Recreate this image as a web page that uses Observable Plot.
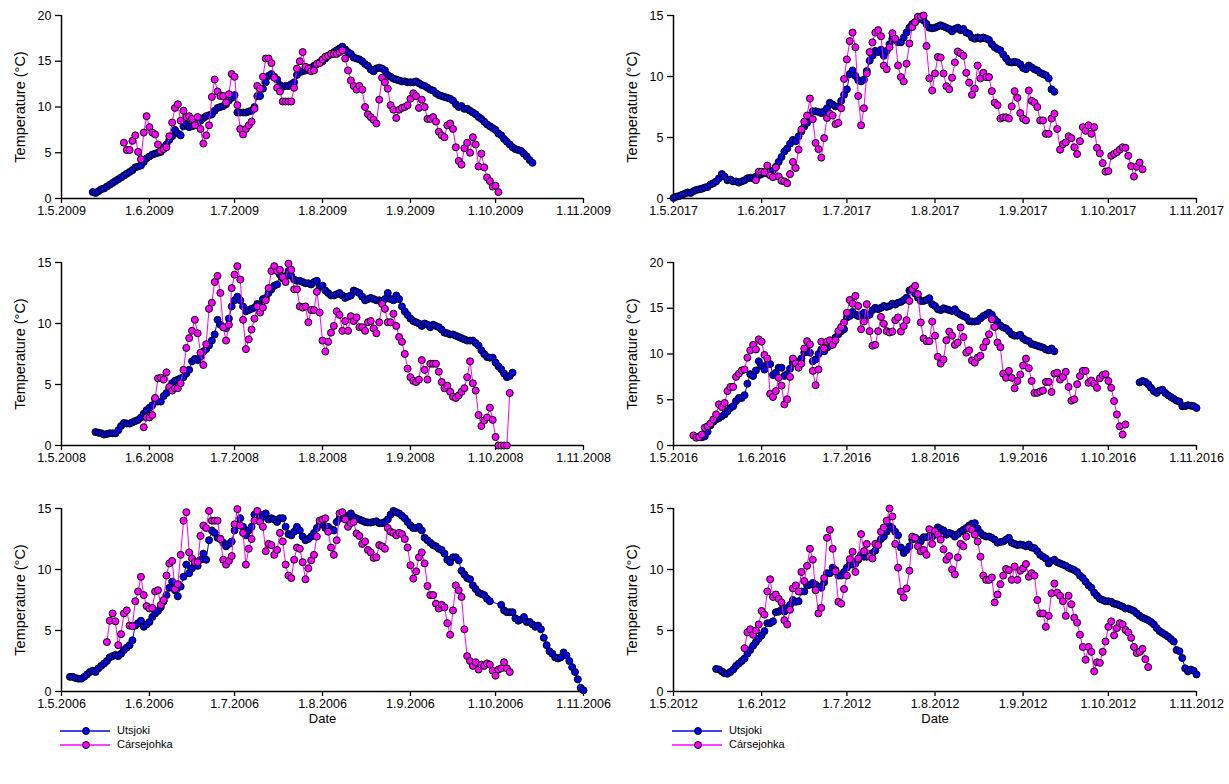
<!DOCTYPE html>
<html><head><meta charset="utf-8">
<script src="https://cdn.jsdelivr.net/npm/d3@7"></script>
<script src="https://cdn.jsdelivr.net/npm/@observablehq/plot@0.6"></script>
<style>
body{margin:0;background:#fff;font-family:"Liberation Sans",Arial,sans-serif;}
#wrap{position:relative;width:1229px;height:784px;overflow:hidden;}
.leg{position:absolute;font-size:11px;color:#000;white-space:nowrap;}
</style></head><body><div id="wrap"></div>
<script>
// ---------- data (daily mean temperatures, °C; start = days after 1 May) ----------
const seriesNames = ["Utsjoki", "Cársejohka"];
const panelYears = [2009, 2017, 2008, 2016, 2006, 2012];
const panelYMax = [20, 15, 15, 20, 15, 15];
const tickMonths = [4, 5, 6, 7, 8, 9, 10];

const uts2009Start = 11;
const uts2009 = [0.7,0.6,0.8,1.0,1.1,1.3,1.5,1.7,1.9,2.1, 2.3,2.5,2.7,2.9,3.1,3.4,3.5,3.6,4.0,4.4, 4.6,4.8,4.9,5.0,5.1,5.6,5.9,6.4,6.8,7.5, 7.1,6.9,7.9,8.1,7.8,7.9,8.0,8.3,8.5,8.8, 9.0,9.1,9.2,9.6,9.9,10.0,10.1,10.3,10.7,11.0, 11.3,9.4,9.4,9.4,9.4,9.5,9.6,10.0,11.2,11.2, 12.0,12.7,13.4,13.6,13.3,13.0,12.4,12.2,12.3,12.3, 12.5,12.7,13.5,13.8,13.9,14.0,14.1,14.3,14.5,14.7, 14.9,15.0,15.3,15.6,15.8,16.0,16.2,16.4,16.6,16.3, 16.0,15.8,15.4,15.3,15.2,15.0,14.7,14.5,14.1,13.9, 14.2,14.3,14.2,14.0,13.5,13.3,13.1,13.0,12.9,12.8, 12.8,12.7,12.7,12.7,12.8,12.6,12.4,12.3,12.1,11.9, 11.8,11.5,11.3,11.2,11.1,11.0,10.9,10.7,10.3,10.0, 10.1,9.8,9.8,9.6,9.4,9.2,8.9,8.7,8.4,8.1, 7.9,7.7,7.5,7.1,6.9,6.5,6.2,5.9,5.6,5.4, 5.3,5.2,4.9,4.6,4.2,3.9];
const cars2009Start = 22;
const cars2009 = [6.1,5.3,5.3,6.3,6.9,5.1,4.3,7.2,9.0,7.8, 7.2,7.0,5.9,5.2,5.4,5.6,6.8,8.3,9.9,10.3, 8.5,9.6,8.9,9.0,8.7,8.0,8.9,7.6,6.0,6.9, 8.0,11.1,13.0,11.7,11.2,11.2,10.5,11.4,13.6,13.3, 10.2,7.6,7.0,7.6,8.0,8.4,9.8,12.3,12.0,13.3, 15.3,15.3,14.8,13.2,12.1,11.7,10.6,10.6,10.6,10.6, 12.1,14.2,15.0,16.0,14.4,14.2,13.9,14.0,14.7,14.8, 15.2,15.5,15.6,15.8,15.8,15.8,16.0,16.2,15.3,14.0, 12.9,12.3,11.9,12.3,11.9,10.0,9.2,8.9,8.6,8.2, 10.8,13.2,12.7,12.0,10.2,9.7,8.8,9.7,9.9,10.0, 10.2,10.9,11.5,11.2,9.9,10.8,10.0,8.7,8.7,8.9, 8.4,7.3,6.9,6.7,8.0,8.2,7.6,5.6,4.1,3.7, 5.5,6.1,5.0,6.7,5.9,3.5,4.9,3.4,2.3,1.9, 1.3,1.4,0.7];

const uts2008Start = 12;
const uts2008 = [1.1,1.05,1.0,0.9,0.95,1.0,1.0,1.0,1.25,1.6, 1.85,1.8,1.8,1.9,2.0,2.1,2.3,2.6,2.9,3.1, 3.3,3.8,3.6,3.6,4.05,4.3,4.7,5.1,5.3,5.4, 5.5,5.6,5.9,6.2,6.9,7.1,7.0,7.3,7.7,7.9, 8.2,8.6,9.1,10.3,9.9,9.7,9.6,10.4,11.4,11.9, 12.2,11.9,11.4,11.0,11.1,11.2,11.3,11.6,11.4,12.0, 12.1,12.5,12.8,13.1,13.2,14.0,13.7,13.9,14.3,13.9, 13.6,13.5,13.5,13.4,13.3,13.3,13.2,13.4,13.5,13.0, 13.1,12.7,12.5,12.3,12.3,12.4,12.5,12.3,12.1,12.2, 12.3,12.7,12.6,12.5,12.2,11.9,12.0,12.1,12.0,11.9, 11.9,11.85,12.0,12.5,12.0,11.9,12.3,12.0,11.4,11.0, 10.7,10.4,10.2,10.1,10.0,9.8,10.0,9.9,9.7,9.9, 9.8,9.7,9.5,9.25,9.2,9.1,9.1,9.0,8.9,8.8, 8.7,8.6,8.6,8.6,8.4,8.2,7.8,7.5,7.25,7.2, 7.2,6.8,6.5,6.25,5.9,5.6,5.7,5.97];
const cars2008Start = 29;
const cars2008 = [1.5,2.3,2.3,2.5,3.9,5.5,5.55,5.4,6.0,4.8, 4.5,4.7,4.7,5.1,6.2,8.0,8.8,9.4,10.3,9.2, 7.6,6.6,8.3,11.2,11.7,13.4,13.9,12.5,9.7,8.6, 9.9,12.9,14.0,14.7,13.6,10.3,7.9,8.7,9.5,10.4, 11.4,10.9,11.3,11.9,12.9,14.3,14.7,14.3,14.4,13.8, 13.4,14.9,14.4,12.8,12.8,11.4,11.3,11.4,10.1,11.1, 11.1,12.6,10.9,8.6,7.7,8.5,9.25,9.8,11.0,10.7, 9.4,10.2,9.4,10.6,10.2,10.5,9.7,9.7,9.4,10.1, 10.2,9.6,9.2,10.1,11.6,11.2,10.1,10.1,10.8,9.8, 8.9,8.5,7.5,6.3,5.6,5.3,5.2,5.4,7.0,6.2, 5.4,6.7,6.7,6.7,6.05,5.2,4.7,4.9,4.4,4.0, 3.9,4.1,4.4,4.7,5.6,6.9,5.1,4.5,2.5,1.6, 2.05,2.3,3.1,2.1,0.7,0,0,0,0,4.3];

const uts2006Start = 3;
const uts2006 = [1.2,1.2,1.1,1.05,1.05,1.2,1.4,1.6,1.7,1.6, 1.9,2.1,2.3,2.5,2.8,2.9,3.0,2.9,3.1,3.4, 3.6,3.8,4.2,5.4,5.6,5.8,5.3,5.5,5.7,6.1, 6.4,6.6,6.9,7.4,7.9,8.5,9.0,8.3,7.8,8.6, 9.4,10.4,9.7,10.1,10.5,10.3,10.8,11.3,10.8,12.4, 13.2,13.0,12.6,12.5,12.2,11.9,12.1,12.3,13.2,13.7, 14.2,13.5,12.8,13.2,13.5,14.5,14.2,14.5,14.3,14.6, 14.1,14.2,14.1,13.9,14.2,14.2,13.5,12.9,12.8,13.1, 13.5,13.2,12.7,12.4,12.5,12.7,13.0,13.4,13.7,13.8, 13.4,13.5,13.3,13.2,13.9,14.2,14.45,14.4,14.3,14.6, 14.3,14.2,14.1,14.0,13.9,13.85,13.85,13.9,13.95,13.8, 13.8,13.9,14.1,14.5,14.8,14.7,14.6,14.4,14.2,13.9, 13.6,13.4,13.4,13.5,13.2,12.6,12.4,12.2,12.0,11.9, 11.7,11.6,11.3,10.8,10.6,11.0,11.0,10.75,9.9,9.6, 9.3,9.2,8.7,8.4,8.1,8.0,7.9,7.6,7.4,null, null,null,7.1,6.65,6.5,6.5,6.5,6.0,5.8,5.9, 6.1,5.7,5.7,5.5,5.3,5.4,5.1,4.4,3.8,3.3, 3.1,2.8,2.7,2.8,3.2,2.95,2.5,2.0,1.6,1.0, 0.3,0.1];
const cars2006Start = 16;
const cars2006 = [4.05,5.8,6.4,5.75,3.8,4.7,6.4,6.65,5.4,5.35, 7.4,8.2,9.4,7.9,7.0,6.8,6.85,8.2,8.3,7.1, 7.5,9.5,10.5,10.7,8.4,8.8,11.2,14.0,14.7,11.4, 10.9,10.6,10.6,12.75,13.6,13.4,14.8,14.0,14.0,14.0, 12.5,10.8,10.4,10.7,11.1,13.7,14.95,13.6,13.0,10.4, 11.7,12.5,14.0,14.8,13.9,13.5,11.5,12.1,12.0,11.2, 11.6,13.0,12.3,10.4,9.5,9.3,10.8,11.8,11.7,10.6, 9.2,10.1,10.75,11.2,12.7,14.0,14.1,14.2,13.1,11.8, 11.2,12.4,14.6,14.7,14.1,13.5,13.8,13.9,12.95,12.75, 12.1,12.3,11.6,11.4,10.95,11.0,12.0,11.9,11.7,13.4, 13.1,13.0,12.8,13.0,12.9,12.5,11.8,10.35,9.25,9.85, 11.0,11.4,10.5,8.65,7.9,7.9,7.2,6.8,7.1,6.9, 5.6,4.65,6.65,8.7,8.3,7.75,5.1,2.9,2.5,2.1, 2.4,1.8,2.2,2.1,2.3,2.2,1.7,1.3,1.8,1.9, 2.4,1.9,1.6];

const uts2017Start = 0;
const uts2017 = [0.05,0.15,0.2,0.3,0.4,0.5,0.45,0.6,0.7,0.75, 0.8,0.9,0.95,1.15,1.25,1.4,1.65,2.0,1.8,1.5, 1.55,1.4,1.4,1.3,1.4,1.5,1.65,1.7,1.65,1.8, 1.9,2.0,2.1,2.05,2.2,2.3,2.6,3.0,3.4,3.85, 4.1,4.5,4.8,4.7,5.1,5.5,5.9,6.2,6.65,7.15, 7.15,7.1,7.0,7.15,7.4,7.85,7.7,7.55,7.55,8.0, 8.5,8.95,10.2,10.5,10.05,9.7,9.6,9.75,10.45,11.3, 11.7,12.1,12.0,12.2,11.7,12.1,12.65,13.1,13.0,12.8, 12.8,13.2,13.6,14.0,14.3,14.45,14.7,14.9,14.6,14.3, 14.0,13.95,14.0,14.1,14.2,14.1,14.0,13.9,13.7,13.9, 14.0,13.8,13.9,13.6,13.5,13.2,13.1,13.2,13.1,13.2, 13.1,13.0,12.65,12.4,12.25,12.15,11.8,11.5,11.2,11.15, 11.2,11.15,11.0,10.7,10.6,10.9,10.75,10.6,10.5,10.3, 10.2,10.1,9.85,8.95,8.75];
const cars2017Start = 29;
const cars2017 = [1.5,2.2,2.2,2.15,2.7,1.9,1.75,2.55,1.8,1.45, 1.4,1.25,2.0,3.0,2.5,4.0,5.65,6.3,6.8,8.2, 6.5,4.55,4.05,3.35,4.95,6.6,6.95,6.8,6.1,6.2, 7.4,9.8,11.4,12.9,13.6,12.4,8.4,6.0,7.4,10.25, 12.0,12.8,13.6,13.8,13.3,10.9,10.6,12.4,13.55,13.1, 10.9,9.95,9.6,11.05,12.7,14.05,14.45,14.9,14.9,15.0, 12.5,9.85,8.85,10.25,11.6,11.55,10.25,9.2,8.95,9.9, 11.15,12.05,11.9,11.7,10.3,9.5,8.5,9.0,10.9,9.85, 10.3,9.95,9.95,8.8,7.85,7.65,6.55,6.65,6.65,6.55, 7.55,8.8,8.25,7.0,6.55,6.4,8.85,8.0,7.85,7.5, 6.4,6.4,5.3,5.3,6.55,6.95,5.7,4.0,4.45,4.6, 5.1,4.95,4.2,3.65,4.7,5.85,5.55,6.0,5.3,5.85, 4.15,3.7,2.9,2.2,2.25,3.5,3.65,3.8,4.0,4.2, 4.15,3.5,2.65,1.8,2.6,2.95,2.4];

const uts2016Start = 9;
const uts2016 = [1.0,0.9,1.0,1.5,2.2,2.6,2.85,3.0,3.2,3.4, 3.75,4.1,4.3,4.85,5.2,5.2,5.5,6.75,7.8,7.6, 8.2,9.2,8.7,8.3,8.9,8.9,7.7,7.95,8.5,8.5, 7.6,7.8,8.4,9.05,9.2,8.9,9.5,10.15,10.3,10.15, 9.2,9.4,10.0,10.5,10.3,10.7,10.9,11.1,11.8,12.15, 12.5,12.7,14.0,14.15,14.6,14.3,14.15,14.3,14.5,14.15, 14.3,14.8,15.05,14.9,15.05,15.25,15.15,15.25,15.5,15.4, 15.6,15.7,15.9,16.15,16.95,17.1,16.6,16.15,15.8,15.8, 15.9,16.1,15.45,15.25,14.9,14.8,15.0,14.9,14.8,14.7, 14.9,14.5,14.3,14.15,14.0,13.6,13.55,13.55,13.6,13.9, 14.15,14.3,14.5,14.3,13.8,13.5,13.1,12.9,12.8,12.5, 12.15,12.0,12.0,12.1,11.7,11.5,11.4,11.1,11.0,10.9, 10.8,10.7,10.5,10.4,10.6,10.3];
const uts2016bStart = 164;
const uts2016b = [6.9,7.05,6.95,6.7,6.3,5.95,5.75,6.0,6.1,5.75, 5.5,5.3,5.1,4.9,4.8,4.3,4.3,4.4,4.35,4.3, 4.1];
const cars2016Start = 7;
const cars2016 = [1.1,0.85,0.9,1.2,1.95,2.1,2.4,2.85,3.4,4.5, 4.2,4.65,5.95,6.4,6.4,7.5,7.85,8.2,8.3,9.6, 10.4,11.0,10.5,11.6,11.35,9.9,9.5,5.65,5.3,5.95, 7.4,6.55,4.5,5.05,7.5,9.5,8.95,8.5,8.95,10.6, 11.4,11.05,8.15,6.6,8.3,11.35,10.6,11.35,11.5,11.0, 11.5,12.5,12.95,13.45,14.5,15.9,15.5,16.35,15.25,12.7, 13.55,15.45,12.5,10.9,11.0,12.5,14.05,13.3,12.5,12.35, 12.45,13.7,14.0,12.45,13.05,13.7,15.8,17.1,17.45,16.55, 13.45,11.7,11.4,11.4,13.55,12.0,9.7,8.95,9.4,11.5, 12.45,12.0,11.0,11.25,12.9,11.85,10.15,10.4,9.3,9.05, 9.6,9.8,10.75,11.35,12.15,13.8,12.95,11.25,10.75,7.85, 7.4,8.15,7.4,6.25,7.05,7.75,8.75,9.5,8.45,7.05, 5.75,5.75,5.9,6.0,6.95,6.95,5.85,7.85,7.95,7.2, 7.5,8.05,6.4,4.9,5.05,6.7,7.6,8.15,8.15,6.85, 7.1,6.75,6.3,7.35,7.7,7.8,7.05,6.3,4.85,3.4, 2.1,1.2,2.3];

const uts2012Start = 15;
const uts2012 = [1.85,1.8,1.65,1.5,1.45,1.6,1.8,2.1,2.3,2.5, 2.7,3.1,3.4,3.75,4.05,4.35,4.6,4.95,5.6,5.6, 5.75,6.5,6.55,6.7,6.55,6.85,7.1,7.5,7.35,7.4, 8.2,8.2,8.7,8.75,8.9,8.75,8.6,8.5,8.95,9.7, 9.7,10.15,9.95,9.5,9.5,9.8,10.15,10.4,10.4,10.5, 10.8,11.2,11.05,11.05,11.25,11.35,11.55,12.15,12.5,12.7, 13.1,13.55,13.4,13.1,12.8,11.8,11.35,11.6,11.9,12.45, 12.6,12.45,12.3,12.65,12.65,12.7,12.7,12.85,13.45,13.3, 13.2,12.85,13.0,12.9,12.7,12.9,13.1,13.25,13.4,13.6, 13.75,13.8,13.35,13.0,12.8,12.7,12.7,12.6,12.45,12.2, 12.25,12.3,12.45,12.6,12.2,12.1,12.0,12.05,12.0,11.9, 12.05,11.8,11.75,11.5,11.2,11.05,10.9,10.5,10.7,10.8, 10.6,10.5,10.4,10.3,10.15,10.05,9.95,9.8,9.5,9.3, 9.0,8.7,8.5,8.1,7.85,7.6,7.5,7.4,7.4,7.35, 7.2,7.15,7.05,6.95,6.8,6.8,6.7,6.6,6.4,6.2, 6.05,5.95,5.85,5.7,5.5,5.2,4.95,4.8,4.65,4.5, 4.3,4.1,3.4,3.3,2.75,1.9,1.65,1.8,1.7,1.4];
const cars2012Start = 25;
const cars2012 = [3.55,4.85,5.1,4.65,5.0,5.5,6.6,6.3,8.2,9.2, 7.75,7.95,7.6,7.3,5.85,5.5,6.7,8.45,8.7,8.2, 9.8,9.05,10.3,11.7,10.8,8.3,6.4,6.85,9.3,12.6, 13.25,11.7,9.85,7.35,7.2,8.4,9.5,10.85,11.45,9.8, 10.9,12.9,11.5,12.1,11.05,10.9,12.1,12.0,13.1,13.45, 14.0,15.0,14.35,12.1,10.15,8.2,7.7,8.45,9.9,12.7, 12.6,11.9,11.5,11.6,11.2,13.3,12.1,13.15,12.85,12.45, 11.65,10.8,11.1,10.0,9.6,11.0,12.1,11.9,12.7,13.4, 13.25,12.85,12.3,11.05,9.5,9.15,9.15,9.35,7.3,7.95, 8.8,9.5,10.05,9.95,9.15,10.25,9.15,9.9,10.1,10.45, 9.4,9.7,9.5,7.5,6.4,6.4,5.3,6.2,8.05,8.85, 8.1,7.85,7.4,6.2,7.85,7.15,6.05,5.65,4.65,3.65, 2.6,3.65,3.25,1.65,2.4,2.35,3.25,4.1,5.3,5.75, 4.6,5.2,5.6,5.5,5.05,4.85,4.4,3.65,3.15,3.25, 3.5,2.65,2.0];

// per-panel series: [[startDay, values], ...]
const utsjokiSegs = [[[uts2009Start, uts2009]], [[uts2017Start, uts2017]], [[uts2008Start, uts2008]],
  [[uts2016Start, uts2016], [uts2016bStart, uts2016b]], [[uts2006Start, uts2006]], [[uts2012Start, uts2012]]];
const carsSegs = [[[cars2009Start, cars2009]], [[cars2017Start, cars2017]], [[cars2008Start, cars2008]],
  [[cars2016Start, cars2016]], [[cars2006Start, cars2006]], [[cars2012Start, cars2012]]];

// ---------- drawing ----------
const BLUE = "#0000f0", PINK = "#ff00ff";
const fmt = d => `${d.getUTCDate()}.${d.getUTCMonth() + 1}.${d.getUTCFullYear()}`;

function build(year, segs) {
  const out = []; let seg = 0, prev = null;
  for (const [start, vals] of segs) {
    vals.forEach((v, i) => {
      if (v == null) return;
      const date = new Date(Date.UTC(year, 4, 1 + start + i));
      if (prev && (date - prev) / 864e5 > 10) seg++;
      out.push({date, v, seg}); prev = date;
    });
  }
  return out;
}

const wrap = document.getElementById("wrap");
panelYears.forEach((year, k) => {
  const col = k % 2, row = Math.floor(k / 2);
  const left = col === 0 ? 0 : 612;
  const width = col === 0 ? 610 : 617;
  const mr = col === 0 ? 27 : 33;
  const top = [0, 247, 493][row];
  const mb = row === 2 ? 40 : 30;
  const height = 15 + 183 + mb;
  const ymax = panelYMax[k];
  const x0 = new Date(Date.UTC(year, 4, 1)), x1 = new Date(Date.UTC(year, 10, 1));
  const ticks = tickMonths.map(m => new Date(Date.UTC(year, m, 1)));
  const u = build(year, utsjokiSegs[k]);
  const c = build(year, carsSegs[k]);
  const marks = [
    Plot.axisX({ticks, tickFormat: fmt, tickSize: 5, tickPadding: 3, label: null, fontSize: 12.5, strokeWidth: 1.3}),
    Plot.axisY({ticks: d3.range(0, ymax + 1, 5), tickSize: 6, tickPadding: 4, label: null, fontSize: 12.5, strokeWidth: 1.3}),
    Plot.ruleY([0], {stroke: "#000", strokeWidth: 1.5}),
    Plot.ruleX([x0], {stroke: "#000", strokeWidth: 1.5}),
    Plot.text(["Temperature (°C)"], {text: d => d, frameAnchor: "left", textAnchor: "middle", dx: -41, rotate: -90, fontSize: 14.5}),
    Plot.line(u, {x: "date", y: "v", z: "seg", stroke: BLUE, strokeWidth: 1}),
    Plot.dot(u, {x: "date", y: "v", r: 3.5, fill: BLUE, stroke: "#000", strokeWidth: 1}),
    Plot.line(c, {x: "date", y: "v", stroke: PINK, strokeWidth: 1}),
    Plot.dot(c, {x: "date", y: "v", r: 3.5, fill: PINK, stroke: "#000", strokeWidth: 1})
  ];
  if (row === 2) marks.push(Plot.text(["Date"], {text: d => d, frameAnchor: "bottom", textAnchor: "middle", dy: 31, fontSize: 13}));
  const svg = Plot.plot({
    width, height, marginLeft: 61, marginRight: mr, marginTop: 15, marginBottom: mb,
    x: {type: "utc", domain: [x0, x1]},
    y: {domain: [0, ymax]},
    style: {fontFamily: "'Liberation Sans', Arial, sans-serif", fontSize: "13px", color: "#000", background: "transparent", overflow: "visible"},
    marks
  });
  svg.style.position = "absolute";
  svg.style.left = left + "px";
  svg.style.top = top + "px";
  svg.style.maxWidth = "none";
  wrap.appendChild(svg);
});

// legends
[0, 612].forEach(lx => {
  seriesNames.forEach((name, i) => {
    const d = document.createElement("div");
    d.className = "leg";
    d.style.left = (lx + 60) + "px";
    d.style.top = (724 + i * 14) + "px";
    const col = i === 0 ? BLUE : PINK;
    d.innerHTML = `<svg width="52" height="14" style="vertical-align:middle"><line x1="0" y1="7" x2="50" y2="7" stroke="${col}" stroke-width="1.3"/><circle cx="26" cy="7" r="3.5" fill="${col}" stroke="#000"/></svg><span style="position:relative;left:5px;top:0px">${name}</span>`;
    wrap.appendChild(d);
  });
});
</script>
</body></html>
